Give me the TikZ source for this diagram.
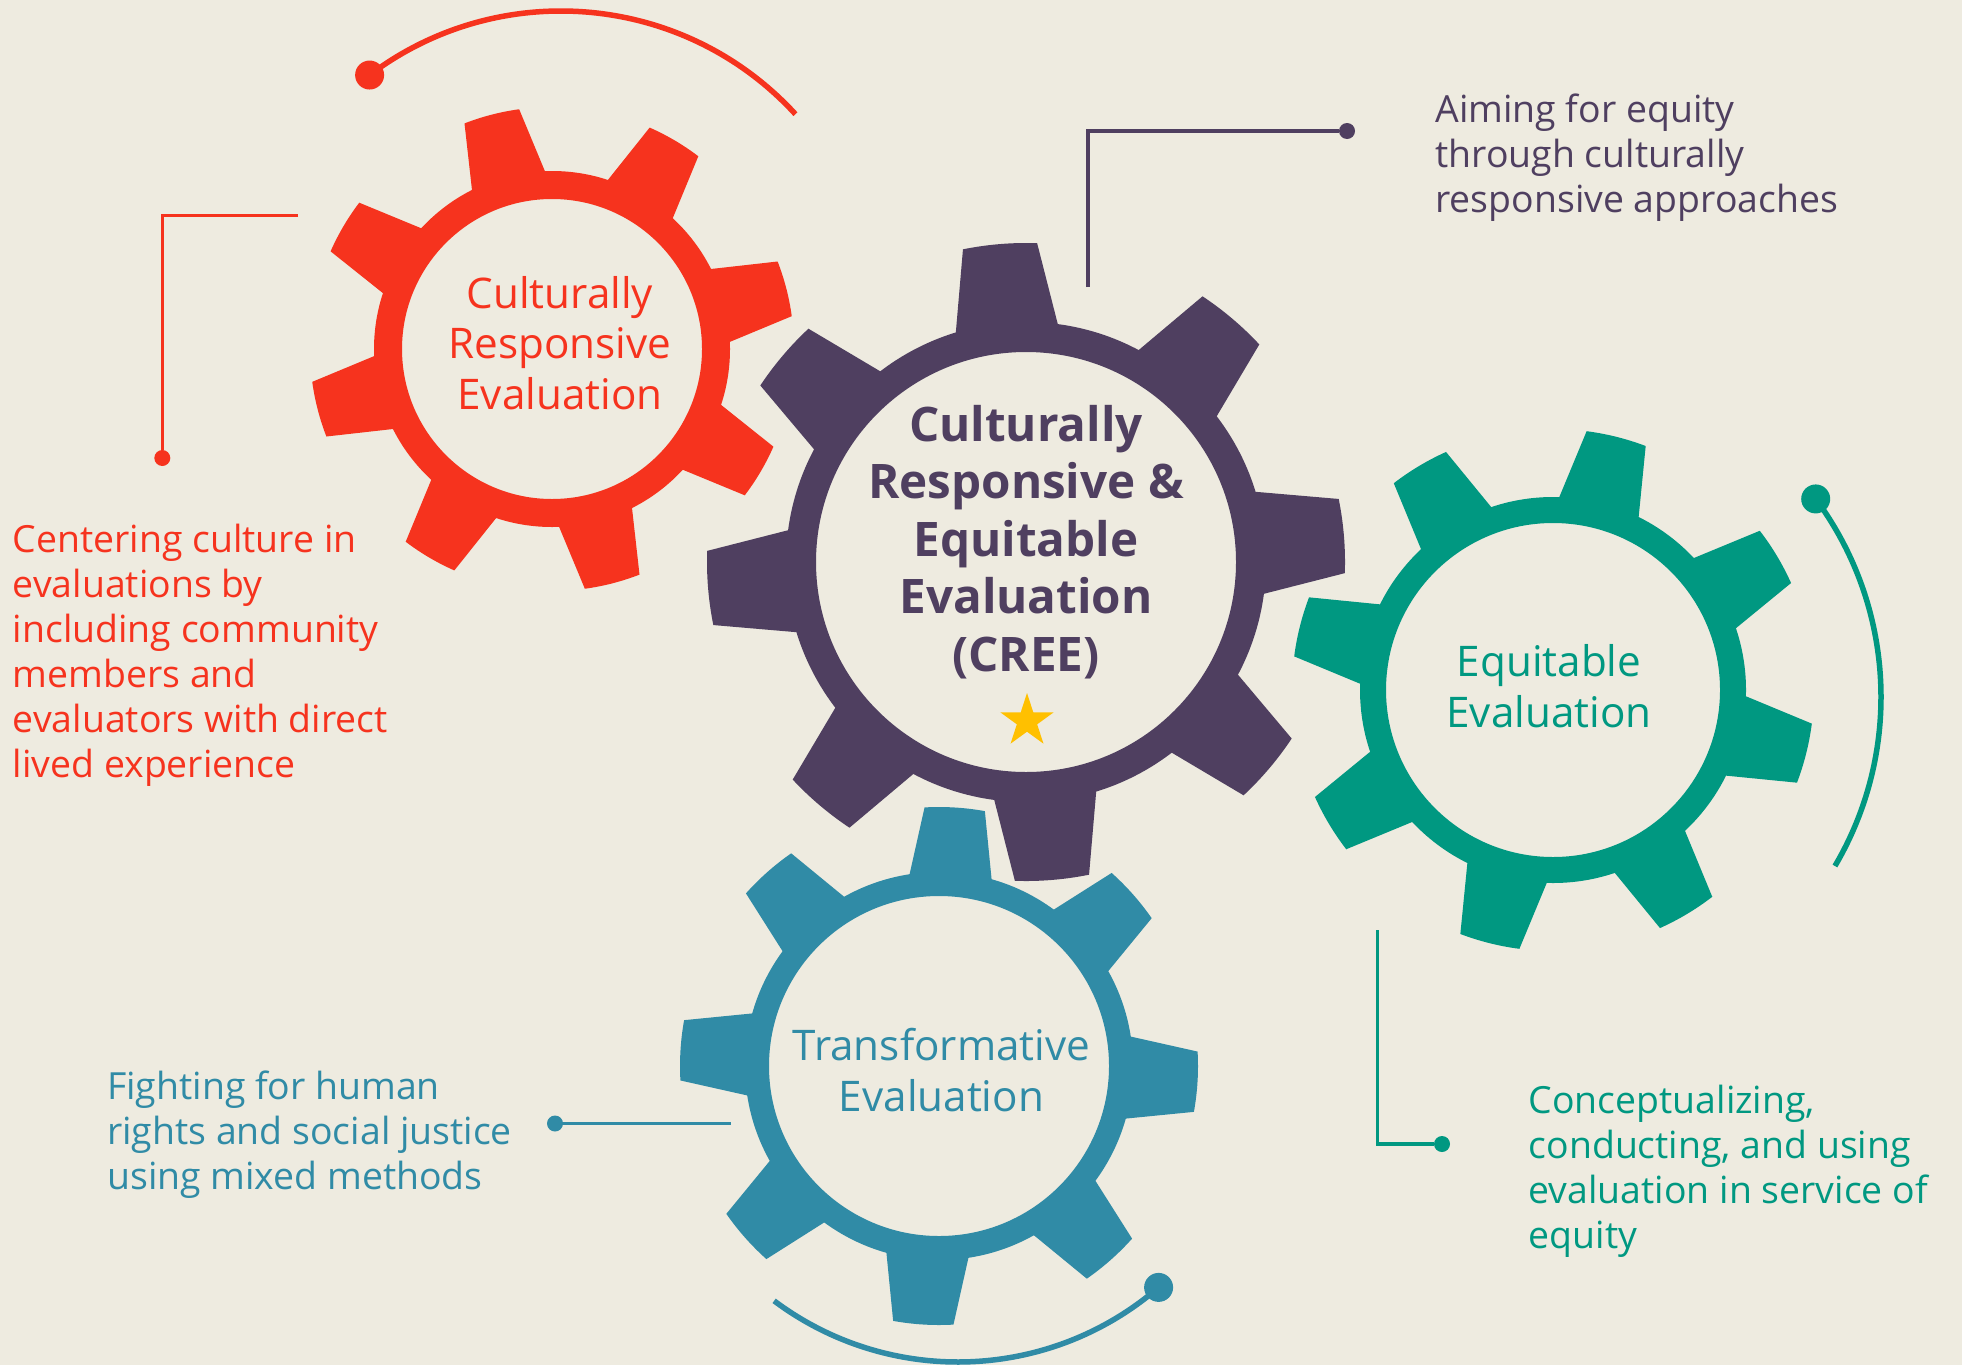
\documentclass[tikz,border=0pt]{standalone}
\usepackage{fontspec}
\setmainfont{Open Sans}
\usepackage{tikz}
\usetikzlibrary{positioning}
\usetikzlibrary{shapes.geometric}
\usetikzlibrary{calc}

\definecolor{bgcream}{RGB}{238,235,224}
\definecolor{crered}{RGB}{246,51,30}
\definecolor{creepurple}{RGB}{79,63,96}
\definecolor{creeteal}{RGB}{0,152,129}
\definecolor{creeblue}{RGB}{48,139,166}
\definecolor{creegold}{RGB}{255,192,0}

\tikzset{
  link/.style={line width=1.65pt},
  ring/.style={line width=2.75pt},
  tipdot/.style={circle, fill, inner sep=0pt, minimum size=8pt},
  enddot/.style={circle, fill, inner sep=0pt, minimum size=14.5pt},
  sidetext/.style={anchor=base west, align=left, inner sep=0pt, font=\fontsize{18.7}{22.5}\selectfont},
  cogtext/.style={anchor=base, align=center, inner sep=0pt, font=\fontsize{21.1}{25.3}\selectfont},
}

% cog: colour, centre x, centre y, hole, root, tip, first tooth angle
\newcommand{\cog}[7]{%
  \begin{scope}[shift={(#2,#3)}]
    \fill[#1, even odd rule] (0,0) circle (#5) (0,0) circle (#4);
    \foreach \k in {0,...,7} {
      \pgfmathsetmacro{\ta}{#7+45*\k}
      \pgfmathsetmacro{\tb}{#5-4}
      \pgfmathsetmacro{\tl}{\ta-12.7}
      \pgfmathsetmacro{\tr}{\ta+12.7}
      \pgfmathsetmacro{\ul}{\ta-6.7}
      \pgfmathsetmacro{\ur}{\ta+6.7}
      \fill[#1] (\tl:\tb) -- (\ul:#6) arc[start angle=\ul, end angle=\ur, radius=#6] -- (\tr:\tb) -- cycle;
    }
  \end{scope}}

\begin{document}
\begin{tikzpicture}[x=0.5pt, y=0.5pt]
\fill[bgcream] (0,0) rectangle (1962,-1365);
\useasboundingbox (0,0) rectangle (1962,-1365);

% arcs round the cogs
\node[enddot, crered] (redtip) at ([shift={(127:318)}]561,-329) {};
\draw[ring, crered] (redtip.center) arc[start angle=127, end angle=42.5, radius=318];
\node[enddot, creeteal] (eqtip) at ([shift={(36.5:333)}]1548,-697) {};
\draw[ring, creeteal] (eqtip.center) arc[start angle=36.5, end angle=-30.5, radius=333];
\node[enddot, creeblue] (trtip) at ([shift={(-49.2:307)}]958,-1055) {};
\draw[ring, creeblue] (trtip.center) arc[start angle=-49.2, end angle=-126.8, radius=307];

\cog{crered}{552}{-349}{150}{178}{242}{14.5}
\cog{creepurple}{1026}{-562}{210}{240}{319}{4.7}
\cog{creeteal}{1553}{-690}{167}{193}{261}{-14.1}
\cog{creeblue}{939}{-1066}{170}{194}{259}{-3.5}

% base anchor sits on the last line
\node[cogtext, text=crered] (crelabel) at (560,-409.5) {Culturally\\Responsive\\Evaluation};
\node[cogtext, text=creepurple, font=\bfseries\fontsize{23.8}{28.7}\selectfont] (creelabel) at (1026,-671)
  {Culturally\\Responsive \&\\Equitable\\Evaluation\\(CREE)};
\node[cogtext, text=creeteal] (eqlabel) at (1549,-727) {Equitable\\Evaluation};
\node[cogtext, text=creeblue] (trlabel) at (941.5,-1111) {Transformative\\Evaluation};
\node[star, star points=5, star point ratio=2.618, fill=creegold, inner sep=0pt, minimum size=28pt] (creestar) at (1027,-721) {};

% notes and their leaders
\node[sidetext, text=creepurple] (creenote) at (1435,-212.3) {Aiming for equity\\through culturally\\responsive approaches};
\coordinate (creestem) at (1088,-287);
\node[tipdot, creepurple] (creedot) at (1347,-131) {};
\draw[link, creepurple] (creestem) |- (creedot);

\node[sidetext, text=crered] (crenote) at (12.5,-777) {Centering culture in\\evaluations by\\including community\\members and\\evaluators with direct\\lived experience};
\coordinate (crestem) at (298,-215.6);
\node[tipdot, crered] (credot) at (162.3,-458) {};
\draw[link, crered] (crestem) -| (credot);

\node[sidetext, text=creeblue] (trnote) at (106.8,-1189.3) {Fighting for human\\rights and social justice\\using mixed methods};
\coordinate (trstem) at (730.6,-1123.5);
\node[tipdot, creeblue] (trdot) at (555,-1123.5) {};
\draw[link, creeblue] (trdot) -- (trstem);

\node[sidetext, text=creeteal] (eqnote) at (1528.3,-1248.5) {Conceptualizing,\\conducting, and using\\evaluation in service of\\equity};
\coordinate (eqstem) at (1377.4,-930);
\node[tipdot, creeteal] (eqdot) at (1442,-1144) {};
\draw[link, creeteal] (eqstem) |- (eqdot);
\end{tikzpicture}
\end{document}
